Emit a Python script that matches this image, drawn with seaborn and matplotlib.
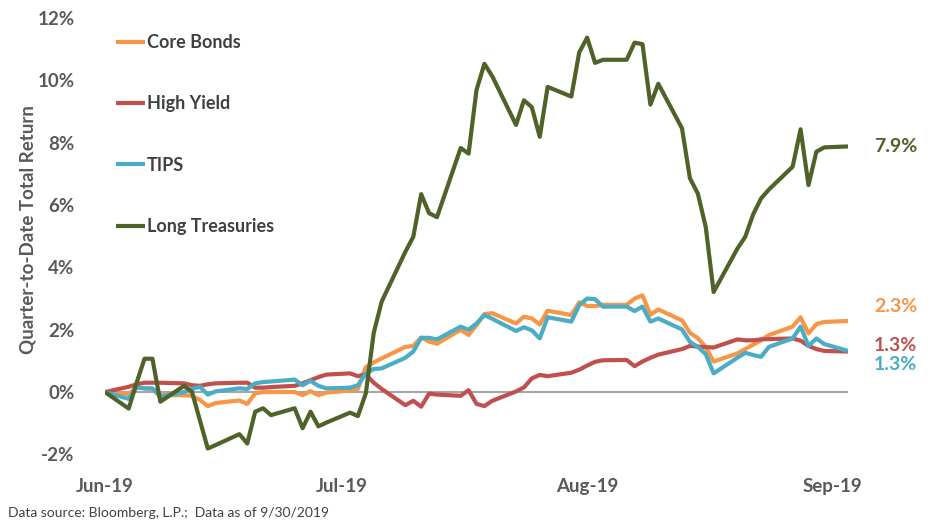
import matplotlib
matplotlib.use("Agg")
import matplotlib.pyplot as plt
import pandas as pd
import seaborn as sns

# ---------------- data ----------------
dates = pd.bdate_range("2019-06-28", "2019-09-30")  # 67 weekdays

series_names = ["Core Bonds", "High Yield", "TIPS", "Long Treasuries"]
series_colors = ["#F79646", "#C0504D", "#4BACC6", "#4F6228"]

core_bonds = [
    0.00, -0.06, 0.15, 0.12, 0.10, -0.10, -0.10, -0.12, -0.25, -0.45,
    -0.35, -0.27, -0.38, -0.04, 0.00, 0.00, 0.00, -0.10, 0.03, -0.10,
    -0.02, 0.05, 0.10, 0.80, 0.95, 1.08, 1.45, 1.48, 1.75, 1.62,
    1.55, 2.00, 1.83, 2.15, 2.50, 2.53, 2.20, 2.42, 2.36, 2.17,
    2.61, 2.47, 2.88, 2.76, 2.76, 2.80, 2.80, 3.00, 3.10, 2.48,
    2.65, 2.30, 1.90, 1.73, 1.45, 0.98, 1.24, 1.38, 1.52, 1.66,
    1.83, 2.10, 2.40, 1.88, 2.18, 2.25, 2.28,
]
high_yield = [
    0.00, 0.17, 0.25, 0.30, 0.30, 0.30, 0.28, 0.22, 0.20, 0.25,
    0.28, 0.30, 0.30, 0.14, 0.14, 0.16, 0.20, 0.28, 0.38, 0.48,
    0.56, 0.60, 0.51, 0.57, 0.30, 0.10, -0.42, -0.28, -0.47, -0.05,
    -0.08, -0.12, 0.06, -0.38, -0.45, -0.28, 0.02, 0.15, 0.44, 0.55,
    0.51, 0.62, 0.72, 0.85, 0.97, 1.02, 1.03, 0.83, 0.98, 1.10,
    1.20, 1.38, 1.48, 1.46, 1.44, 1.43, 1.69, 1.66, 1.66, 1.69,
    1.70, 1.72, 1.65, 1.48, 1.38, 1.32, 1.30,
]
tips = [
    0.00, -0.22, 0.15, 0.12, 0.12, -0.15, 0.00, 0.10, 0.17, -0.08,
    0.02, 0.12, 0.10, 0.28, 0.32, 0.34, 0.40, 0.22, 0.36, 0.20,
    0.12, 0.14, 0.22, 0.60, 0.74, 0.76, 1.10, 1.30, 1.74, 1.74,
    1.69, 2.10, 2.00, 2.20, 2.47, 2.35, 1.96, 2.08, 1.98, 1.72,
    2.40, 2.26, 2.79, 3.00, 2.98, 2.74, 2.74, 2.60, 2.74, 2.26,
    2.36, 2.01, 1.61, 1.45, 1.22, 0.60, 1.10, 1.26, 1.19, 1.13,
    1.45, 1.72, 2.10, 1.48, 1.72, 1.54, 1.32,
]
long_treasuries = [
    0.00, -0.53, 0.30, 1.07, 1.07, -0.31, 0.20, 0.01, -0.90, -1.81,
    -1.70, -1.35, -1.65, -0.63, -0.52, -0.74, -0.52, -1.16, -0.63, -1.10,
    -0.98, -0.66, -0.77, -0.04, 1.90, 2.90, 4.50, 4.98, 6.35, 5.74,
    5.61, 7.83, 7.65, 9.69, 10.53, 10.13, 8.57, 9.36, 9.14, 8.19,
    9.79, 9.48, 10.90, 11.37, 10.56, 10.66, 10.66, 11.21, 11.16, 9.22,
    9.89, 8.46, 6.86, 6.37, 5.30, 3.21, 4.60, 4.98, 5.70, 6.21,
    6.50, 7.23, 8.43, 6.64, 7.71, 7.85, 7.88,
]

end_labels = ["2.3%", "1.3%", "1.3%", "7.9%"]
end_label_y = [2.73, 1.48, 0.90, 7.89]

tick_dates = ["2019-06-28", "2019-07-28", "2019-08-28", "2019-09-28"]
tick_labels = ["Jun-19", "Jul-19", "Aug-19", "Sep-19"]
y_ticks = [-2, 0, 2, 4, 6, 8, 10, 12]

# ---------------- figure ----------------
sns.set_theme(style="white")
plt.rcParams["font.family"] = ["Lato", "DejaVu Sans"]

W, H = 934, 521
fig = plt.figure(figsize=(W / 100, H / 100), dpi=100)
ax = fig.add_axes([105 / W, 1 - 470 / H, (848 - 105) / W, (470 - 18) / H])

df = pd.concat(
    [
        pd.DataFrame({"date": dates, "value": vals, "series": name})
        for name, vals in zip(series_names, [core_bonds, high_yield, tips, long_treasuries])
    ],
    ignore_index=True,
)

ax.axhline(0, color="#A6A6A6", lw=1.5, zorder=1)

sns.lineplot(
    data=df, x="date", y="value", hue="series", hue_order=series_names,
    palette=series_colors, linewidth=3.0, legend=False, ax=ax,
    estimator=None, errorbar=None,
)
for ln in ax.lines[1:]:
    ln.set_solid_joinstyle("round")
    ln.set_solid_capstyle("butt")

ax.set_xlim(dates[0], dates[-1])
ax.set_ylim(-2.5, 12)
ax.set_xticks(pd.to_datetime(tick_dates))
ax.set_xticklabels(tick_labels)
ax.set_yticks(y_ticks)
ax.set_yticklabels([f"{v}%" for v in y_ticks])
ax.tick_params(axis="both", length=0, labelsize=13.5, labelcolor="#595959")
ax.tick_params(axis="x", pad=6)
ax.tick_params(axis="y", pad=22)
for lab in ax.get_xticklabels() + ax.get_yticklabels():
    lab.set_fontweight("bold")
for sp in ax.spines.values():
    sp.set_visible(False)
ax.set_xlabel("")
ax.set_ylabel("Quarter-to-Date Total Return", fontsize=13.5, fontweight="bold",
              color="#595959", labelpad=10)
ax.yaxis.set_label_coords(-68 / (848 - 105), (470 - 230) / (470 - 18))

# legend
handles = ax.lines[1:5]
leg = ax.legend(
    handles, series_names, loc="upper left",
    bbox_to_anchor=(100 / W, 1 - 18 / H), bbox_transform=fig.transFigure,
    frameon=False, handlelength=1.6, handletextpad=0.1, labelspacing=2.45,
    prop={"size": 13, "weight": "bold"},
)
for t in leg.get_texts():
    t.set_color("#404040")

# end labels
x_lab = dates[-1] + pd.Timedelta(days=3.3)
for txt, yv, col in zip(end_labels, end_label_y, series_colors):
    ax.text(x_lab, yv, txt, color=col, fontsize=14, fontweight="bold",
            va="center", ha="left", clip_on=False)

fig.text(8 / W, 1 - 513 / H, "Data source: Bloomberg, L.P.;  Data as of 9/30/2019",
         fontsize=10, color="#404040", va="center", ha="left")

fig.savefig("out.png", dpi=100, facecolor="white")
